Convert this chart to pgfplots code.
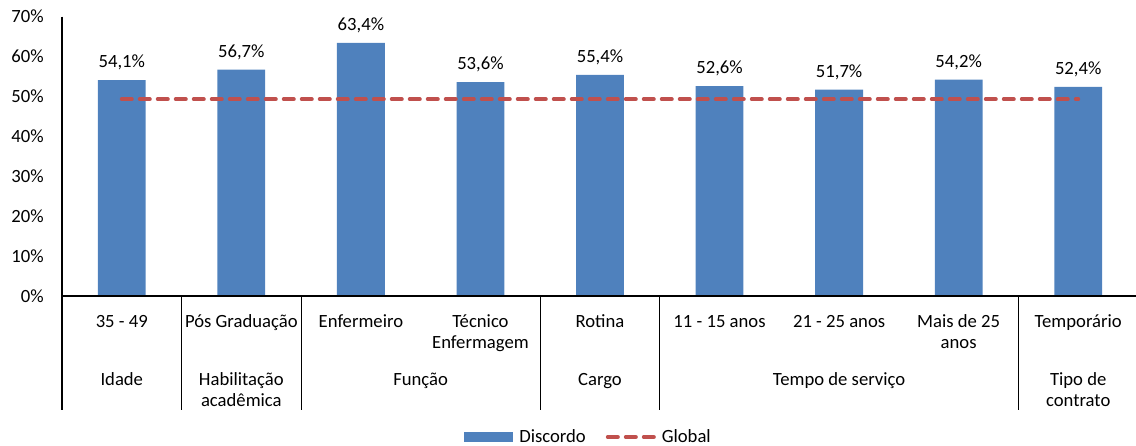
\documentclass[border=0pt]{standalone}
\usepackage{fontspec}
\setmainfont{Carlito}
\usepackage{pgfplots}
\pgfplotsset{compat=1.18}
\definecolor{barblue}{HTML}{4F81BD}
\definecolor{globred}{HTML}{C0504D}
\begin{document}
\fontsize{14}{16}\selectfont
\begin{tikzpicture}[font=\fontsize{14}{16}\selectfont]
\useasboundingbox (0,0) rectangle (852pt,-334.5pt);
\begin{axis}[
  at={(46.5pt,-222pt)}, anchor=south west,
  scale only axis, width=807pt, height=209.6pt,
  xmin=-0.5, xmax=8.5, ymin=0, ymax=70,
  enlargelimits=false, clip=false,
  axis line style={draw=none},
  major tick length=0pt,
  /pgf/number format/assume math mode=true,
  ytick={0,10,...,70},
  yticklabel={\pgfmathprintnumber{\tick}\%},
  yticklabel style={anchor=east, inner sep=0pt, xshift=-13.5pt},
  xtick={0,...,8},
  xticklabels={{\strut 35 - 49},{\strut Pós Graduação},{\strut Enfermeiro},
    {\strut Técnico\\\strut Enfermagem},{\strut Rotina},{\strut 11 - 15 anos},
    {\strut 21 - 25 anos},{\strut Mais de 25\\\strut anos},{\strut Temporário}},
  xticklabel style={anchor=north, align=center, inner sep=0pt, yshift=-11.85pt},
  legend style={draw=none, fill=none, inner sep=0pt, outer sep=0pt,
    at={(0.4884,-0.5045)}, anchor=center, legend columns=2,
    nodes={inner sep=0pt},
    /tikz/every odd column/.append style={column sep=4.5pt},
    /tikz/every even column/.append style={column sep=15pt}},
]
% bars with value labels
\addplot[ybar, bar width=0.4, fill=barblue, draw=none,
  nodes near coords={\pgfmathprintnumber[fixed,fixed zerofill,precision=1,use comma]{\pgfplotspointmeta}\%},
  every node near coord/.append style={anchor=base, inner sep=0pt, yshift=9.4pt, text=black},
  legend image code/.code={\fill[barblue] (0pt,-3.75pt) rectangle (36.75pt,3.75pt);}]
  coordinates {(0,54.1) (1,56.7) (2,63.4) (3,53.6) (4,55.4) (5,52.6) (6,51.7) (7,54.2) (8,52.4)};
\addlegendentry{Discordo}
% overall reference line
\addplot[globred, line width=3pt, line cap=round, dash pattern=on 7.5pt off 6pt,
  legend image code/.code={\draw[globred, line width=3pt, line cap=round, dash pattern=on 7.5pt off 6pt] (1.5pt,0pt) -- (36pt,0pt);}]
  coordinates {(0,49.3) (1,49.3) (2,49.3) (3,49.3) (4,49.3) (5,49.3) (6,49.3) (7,49.3) (8,49.3)};
\addlegendentry{Global}
% axis lines and group separators
\draw[black, line width=0.9pt] (axis cs:-0.5,70) -- (axis cs:-0.5,-28.55);
\draw[black, line width=0.9pt] (axis cs:-0.5,0) -- (axis cs:8.5,0);
\draw[black, line width=0.75pt] (axis cs:0.5,0) -- (axis cs:0.5,-28.55);
\draw[black, line width=0.75pt] (axis cs:1.5,0) -- (axis cs:1.5,-28.55);
\draw[black, line width=0.75pt] (axis cs:3.5,0) -- (axis cs:3.5,-28.55);
\draw[black, line width=0.75pt] (axis cs:4.5,0) -- (axis cs:4.5,-28.55);
\draw[black, line width=0.75pt] (axis cs:7.5,0) -- (axis cs:7.5,-28.55);
% group labels
\node[anchor=north, align=center, inner sep=0pt] at (axis cs:0,-18.55) {\strut Idade};
\node[anchor=north, align=center, inner sep=0pt] at (axis cs:1,-18.55) {\strut Habilitação\\\strut acadêmica};
\node[anchor=north, align=center, inner sep=0pt] at (axis cs:2.5,-18.55) {\strut Função};
\node[anchor=north, align=center, inner sep=0pt] at (axis cs:4,-18.55) {\strut Cargo};
\node[anchor=north, align=center, inner sep=0pt] at (axis cs:6,-18.55) {\strut Tempo de serviço};
\node[anchor=north, align=center, inner sep=0pt] at (axis cs:8,-18.55) {\strut Tipo de\\\strut contrato};
\end{axis}
\end{tikzpicture}
\end{document}
